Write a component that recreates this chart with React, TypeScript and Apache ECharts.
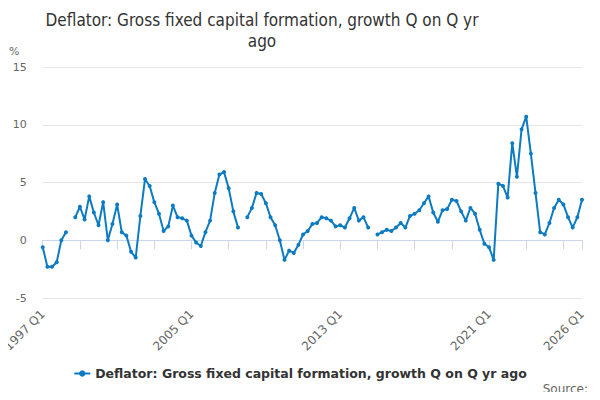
import React, { useEffect, useRef } from "react";
import * as echarts from "echarts";

const TITLE = "Deflator: Gross fixed capital formation, growth Q on Q yr\nago";
const SERIES_NAME = "Deflator: Gross fixed capital formation, growth Q on Q yr ago";
const FIRST_YEAR = 1997;
const LAST_YEAR = 2026;
const Y_TICKS = [-5, 0, 5, 10, 15];

// Quarterly values, 1997 Q1 .. 2026 Q1 (null = missing)
const values: (number | null)[] = [
  -0.6, -2.3, -2.3, -1.9, 0.0, 0.7, null, 2.0,
  2.9, 1.8, 3.8, 2.4, 1.3, 3.3, 0.0, 1.4,
  3.1, 0.7, 0.4, -1.0, -1.5, 2.1, 5.3, 4.7,
  3.3, 2.3, 0.8, 1.2, 3.0, 2.0, 1.9, 1.7,
  0.4, -0.2, -0.5, 0.7, 1.7, 4.1, 5.7, 5.9,
  4.5, 2.5, 1.1, null, 2.0, 2.8, 4.1, 4.0,
  3.2, 2.0, 1.3, 0.0, -1.7, -0.9, -1.1, -0.4,
  0.5, 0.8, 1.4, 1.5, 2.0, 1.9, 1.7, 1.2,
  1.3, 1.1, 1.9, 2.8, 1.7, 2.0, 1.1, null,
  0.5, 0.7, 0.9, 0.8, 1.1, 1.5, 1.1, 2.1,
  2.3, 2.6, 3.2, 3.8, 2.4, 1.6, 2.6, 2.7,
  3.5, 3.4, 2.5, 1.7, 2.8, 2.3, 0.9, -0.3,
  -0.6, -1.7, 4.9, 4.7, 3.7, 8.4, 5.5, 9.6,
  10.7, 7.5, 4.1, 0.7, 0.5, 1.5, 2.8, 3.5,
  3.1, 2.0, 1.1, 2.0, 3.5,
];

const categories: string[] = [];
for (let y = FIRST_YEAR; y <= LAST_YEAR; y++) {
  for (let q = 1; q <= 4; q++) {
    if (y === LAST_YEAR && q > 1) break;
    categories.push(`${y} Q${q}`);
  }
}

const FONT = "DejaVu Sans, sans-serif";
const TITLE_FONT = "'DejaVu Sans Condensed', 'DejaVu Sans', sans-serif";
const COLOR = "#0c7bc1";

export default function App() {
  const ref = useRef<HTMLDivElement>(null);
  useEffect(() => {
    if (!ref.current) return;
    const chart = echarts.init(ref.current, undefined, { renderer: "svg" });
    const last = categories.length - 1;
    chart.setOption({
      animation: false,
      textStyle: { fontFamily: FONT },
      grid: { left: 40, right: 18, top: 67, bottom: 102, containLabel: false },
      graphic: [
        {
          type: "text",
          x: 262,
          y: 9,
          style: {
            text: TITLE,
            fill: "#333333",
            font: `17px ${TITLE_FONT}`,
            align: "center",
            lineHeight: 21,
          },
        },
        {
          type: "text",
          x: 9,
          y: 46,
          style: { text: "%", fill: "#666666", font: `11px ${FONT}` },
        },
        {
          type: "text",
          x: 588,
          y: 383,
          style: { text: "Source:", fill: "#666666", font: `12px ${FONT}`, align: "right" },
        },
      ],
      legend: {
        show: true,
        left: "center",
        top: 362,
        itemWidth: 16,
        itemHeight: 8,
        textStyle: { fontFamily: FONT, fontSize: 12.5, fontWeight: "bold", color: "#333333" },
        data: [SERIES_NAME],
      },
      xAxis: {
        type: "category",
        data: categories,
        boundaryGap: false,
        axisLine: { lineStyle: { color: "#ccd6eb" } },
        axisTick: {
          length: 9,
          lineStyle: { color: "#ccd6eb" },
          interval: (i: number) => i % 8 === 0 || i === last,
        },
        axisLabel: {
          rotate: 45,
          fontSize: 12,
          color: "#666666",
          margin: 14,
          fontFamily: FONT,
          interval: (i: number) => i % 32 === 0 || i === last,
        },
        splitLine: { show: false },
      },
      yAxis: {
        type: "value",
        min: Y_TICKS[0],
        max: Y_TICKS[Y_TICKS.length - 1],
        interval: 5,
        axisLine: { show: false },
        axisTick: { show: false },
        axisLabel: { fontSize: 11, color: "#666666", margin: 16, fontFamily: FONT },
        splitLine: { lineStyle: { color: "#e6e6e6" } },
      },
      series: [
        {
          name: SERIES_NAME,
          type: "line",
          data: values,
          connectNulls: false,
          symbol: "circle",
          symbolSize: 4,
          showSymbol: true,
          showAllSymbol: true,
          itemStyle: { color: COLOR },
          lineStyle: { color: COLOR, width: 2 },
        },
      ],
    });
    return () => chart.dispose();
  }, []);
  return <div ref={ref} style={{ width: 600, height: 400, margin: -8 }} />;
}
